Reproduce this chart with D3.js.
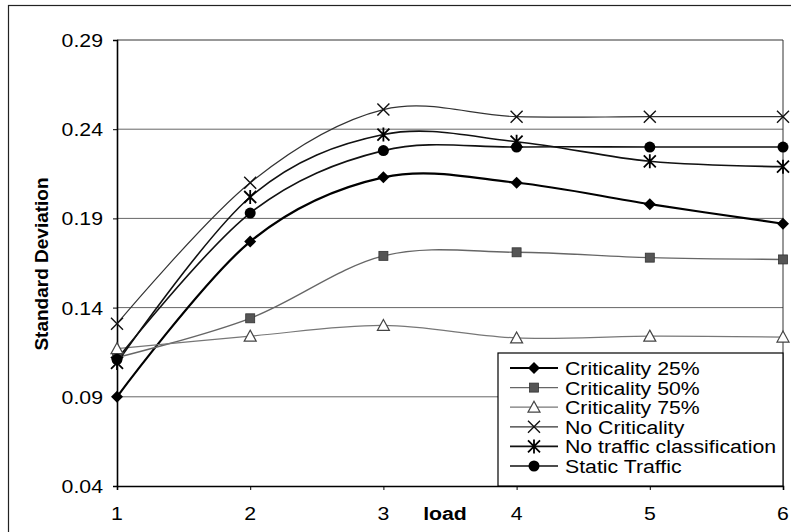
<!DOCTYPE html>
<html>
<head>
<meta charset="utf-8">
<script src="https://cdn.jsdelivr.net/npm/d3@7"></script>
<style>
  body { margin: 0; background: #fff; }
  svg { display: block; font-family: "Liberation Sans", Arial, sans-serif; }
</style>
</head>
<body>
<div id="chart"></div>
<script>
// data
var loads = [1, 2, 3, 4, 5, 6];
var yTicks = [0.04, 0.09, 0.14, 0.19, 0.24, 0.29];
var crit25 = [0.090, 0.177, 0.213, 0.210, 0.198, 0.187];
var crit50 = [0.112, 0.134, 0.169, 0.171, 0.168, 0.167];
var crit75 = [0.117, 0.124, 0.130, 0.123, 0.124, 0.1235];
var noCrit = [0.131, 0.210, 0.251, 0.247, 0.247, 0.247];
var noTraffic = [0.109, 0.202, 0.237, 0.233, 0.222, 0.219];
var staticTraffic = [0.111, 0.193, 0.228, 0.230, 0.230, 0.230];
var seriesNames = ["Criticality 25%", "Criticality 50%", "Criticality 75%",
  "No Criticality", "No traffic classification", "Static Traffic"];

var W = 791, H = 532;
var stretch = 1.12; // scanned text is a bit wide

var series = [
  { name: seriesNames[0], values: crit25, marker: "diamond", stroke: "#000", width: 2.2 },
  { name: seriesNames[1], values: crit50, marker: "square", stroke: "#666", width: 1.4 },
  { name: seriesNames[2], values: crit75, marker: "triangle", stroke: "#777", width: 1.2 },
  { name: seriesNames[3], values: noCrit, marker: "cross", stroke: "#333", width: 1.2 },
  { name: seriesNames[4], values: noTraffic, marker: "star", stroke: "#111", width: 1.6 },
  { name: seriesNames[5], values: staticTraffic, marker: "circle", stroke: "#111", width: 1.6 }
];

var x = d3.scaleLinear().domain([1, 6]).range([117, 783]);
var y = d3.scaleLinear().domain([0.04, 0.29]).range([486, 40]);

var svg = d3.select("#chart").append("svg")
  .attr("width", W).attr("height", H);

// outer frame
svg.append("rect")
  .attr("x", 8.5).attr("y", 5.5).attr("width", 800).attr("height", 560)
  .attr("fill", "none").attr("stroke", "#222").attr("stroke-width", 1.2);

// gridlines
svg.append("g").selectAll("line")
  .data(yTicks.slice(1))
  .enter().append("line")
  .attr("x1", x(1)).attr("x2", x(6))
  .attr("y1", d => y(d)).attr("y2", d => y(d))
  .attr("stroke", (d, i) => i === yTicks.length - 2 ? "#333" : "#666")
  .attr("stroke-width", 1);

// right frame of plot
svg.append("line")
  .attr("x1", x(6)).attr("x2", x(6)).attr("y1", y(0.29)).attr("y2", y(0.04))
  .attr("stroke", "#333").attr("stroke-width", 1);

// axes
var yAxis = d3.axisLeft(y).tickValues(yTicks).tickSize(4).tickFormat("");
var xAxis = d3.axisBottom(x).tickValues(loads).tickSize(4).tickFormat("");
svg.append("g").attr("transform", `translate(${x(1)},0)`).call(yAxis)
  .call(g => g.select(".domain").attr("stroke-width", 1.6).attr("stroke", "#000"));
svg.append("g").attr("transform", `translate(0,${y(0.04)})`).call(xAxis)
  .call(g => g.select(".domain").attr("stroke-width", 1.6).attr("stroke", "#000"));

// tick labels
svg.append("g").selectAll("text")
  .data(yTicks).enter().append("text")
  .attr("transform", d => `translate(103,${y(d) + 7}) scale(${stretch},1)`)
  .attr("text-anchor", "end")
  .attr("font-size", 19)
  .text(d => d3.format(".2f")(d));

svg.append("g").selectAll("text")
  .data(loads).enter().append("text")
  .attr("transform", d => `translate(${x(d)},520) scale(${stretch},1)`)
  .attr("text-anchor", "middle")
  .attr("font-size", 19)
  .text(d => d);

svg.append("text")
  .attr("transform", `translate(445,520) scale(${stretch},1)`)
  .attr("text-anchor", "middle")
  .attr("font-size", 19).attr("font-weight", "bold")
  .text("load");

svg.append("text")
  .attr("transform", "translate(48,264) rotate(-90)")
  .attr("text-anchor", "middle")
  .attr("font-size", 19).attr("font-weight", "bold")
  .text("Standard Deviation");

// markers
function drawMarker(g, type, cx, cy) {
  if (type === "diamond") {
    g.append("path").attr("d", `M${cx},${cy - 6}L${cx + 6},${cy}L${cx},${cy + 6}L${cx - 6},${cy}Z`)
      .attr("fill", "#000");
  } else if (type === "square") {
    g.append("rect").attr("x", cx - 4.5).attr("y", cy - 4.5).attr("width", 9).attr("height", 9)
      .attr("fill", "#555").attr("stroke", "#333").attr("stroke-width", 0.8);
  } else if (type === "triangle") {
    g.append("path").attr("d", `M${cx},${cy - 6}L${cx + 6},${cy + 5}L${cx - 6},${cy + 5}Z`)
      .attr("fill", "#fff").attr("stroke", "#444").attr("stroke-width", 1.2);
  } else if (type === "cross") {
    g.append("path").attr("d", `M${cx - 6},${cy - 6}L${cx + 6},${cy + 6}M${cx + 6},${cy - 6}L${cx - 6},${cy + 6}`)
      .attr("stroke", "#111").attr("stroke-width", 1.4);
  } else if (type === "star") {
    g.append("path").attr("d", `M${cx - 6},${cy - 6}L${cx + 6},${cy + 6}M${cx + 6},${cy - 6}L${cx - 6},${cy + 6}M${cx},${cy - 7}L${cx},${cy + 7}`)
      .attr("stroke", "#000").attr("stroke-width", 1.8);
  } else if (type === "circle") {
    g.append("circle").attr("cx", cx).attr("cy", cy).attr("r", 5.5).attr("fill", "#000");
  }
}

var line = d3.line()
  .x((d, i) => x(loads[i]))
  .y(d => y(d))
  .curve(d3.curveCatmullRom.alpha(0));

var plot = svg.append("g");
series.forEach(function (s) {
  plot.append("path")
    .attr("d", line(s.values))
    .attr("fill", "none")
    .attr("stroke", s.stroke)
    .attr("stroke-width", s.width);
});
series.forEach(function (s) {
  var g = plot.append("g");
  s.values.forEach((v, i) => drawMarker(g, s.marker, x(loads[i]), y(v)));
});

// legend
var legend = svg.append("g");
legend.append("rect")
  .attr("x", 498).attr("y", 353).attr("width", x(6) - 498).attr("height", y(0.04) - 353)
  .attr("fill", "#fff").attr("stroke", "#000").attr("stroke-width", 1.2);
series.forEach(function (s, i) {
  var ry = 368 + i * 19.6;
  legend.append("line")
    .attr("x1", 510).attr("x2", 558).attr("y1", ry).attr("y2", ry)
    .attr("stroke", s.stroke).attr("stroke-width", s.width);
  drawMarker(legend, s.marker, 534, ry);
  legend.append("text")
    .attr("transform", `translate(565,${ry + 7}) scale(${stretch},1)`)
    .attr("font-size", 19)
    .text(s.name);
});
</script>
</body>
</html>
